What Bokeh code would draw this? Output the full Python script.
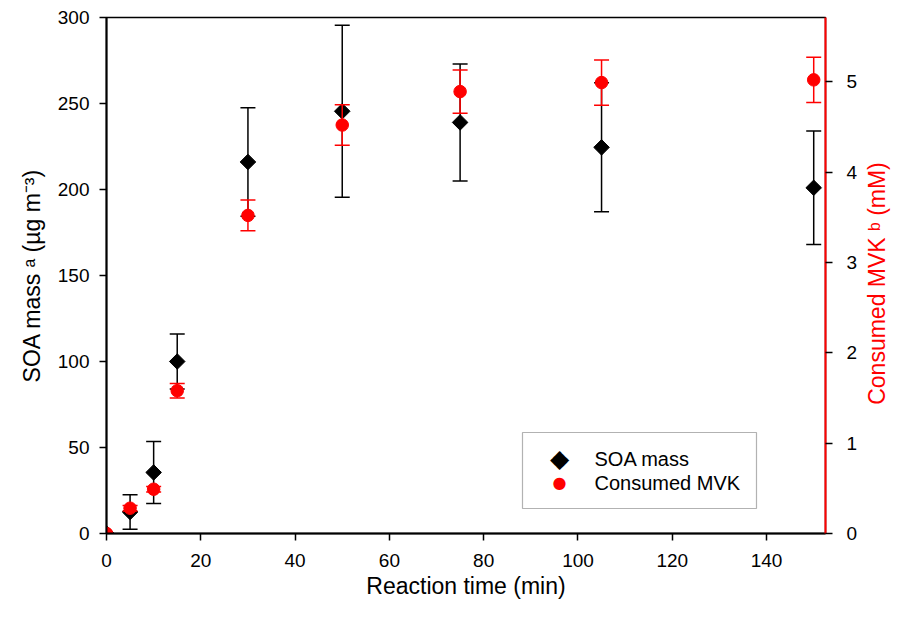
import math
from bokeh.plotting import figure
from bokeh.models import Range1d, LinearAxis, FixedTicker, BoxAnnotation, Label
from bokeh.embed import file_html
from bokeh.resources import INLINE

# ---- data ----
time_min = [0, 5, 10, 15, 30, 50, 75, 105, 150]
soa_mass = [0, 12.5, 35.5, 100, 216, 245.5, 239, 224.5, 201]
soa_err = [0, 10, 18, 16, 31.5, 50, 34, 37.5, 33]
mvk_consumed = [0, 0.28, 0.49, 1.58, 3.52, 4.52, 4.89, 4.99, 5.02]
mvk_err = [0, 0.03, 0.03, 0.08, 0.17, 0.225, 0.24, 0.25, 0.25]
x_ticks = [0, 20, 40, 60, 80, 100, 120, 140]
left_ticks = [0, 50, 100, 150, 200, 250, 300]
right_ticks = [0, 1, 2, 3, 4, 5]
legend_labels = ["SOA mass", "Consumed MVK"]

FONT = "Liberation Sans"
RED = "#ff0000"
FRAME_W, FRAME_H = 719, 516

p = figure(width=894, height=601, output_backend="svg", toolbar_location=None,
           x_range=Range1d(0, 152.5), y_range=Range1d(0, 300),
           min_border_left=106, min_border_right=69, min_border_top=17, min_border_bottom=68)
p.extra_y_ranges = {"mvk": Range1d(0, 5.71)}
p.grid.visible = False
p.outline_line_color = "black"
p.outline_line_width = 1.5
p.background_fill_color = "white"
p.border_fill_color = "white"

def style_axis(ax):
    ax.axis_line_width = 2
    ax.major_tick_line_width = 1.5
    ax.major_tick_in = 0
    ax.major_tick_out = 7
    ax.minor_tick_line_color = None
    ax.major_label_text_font = FONT
    ax.major_label_text_font_size = "19px"
    ax.major_label_text_color = "black"
    ax.axis_label_text_font = FONT
    ax.axis_label_text_font_size = "23px"
    ax.axis_label_text_font_style = "normal"
    ax.axis_label_text_color = "black"

xa = p.xaxis[0]
style_axis(xa)
xa.ticker = FixedTicker(ticks=x_ticks)
xa.axis_label = "Reaction time (min)"
xa.major_label_standoff = 13
xa.axis_label_standoff = 3

ya = p.yaxis[0]
style_axis(ya)
ya.ticker = FixedTicker(ticks=left_ticks)
ya.axis_label = "SOA mass \u1d43 (\u00b5g m\u207b\u00b3)"
ya.major_label_standoff = 10
ya.axis_label_standoff = 10

ra = LinearAxis(y_range_name="mvk")
style_axis(ra)
ra.ticker = FixedTicker(ticks=right_ticks)
ra.axis_line_color = RED
ra.major_tick_line_color = "black"
ra.major_label_standoff = 14
p.add_layout(ra, "right")

# right axis title, reading bottom to top like the left one (in its own side panel)
p.add_layout(Label(x=16, y=FRAME_H / 2 - 8, x_units="screen", y_units="screen",
                   text="Consumed MVK \u1d47 (mM)", angle=math.pi / 2,
                   text_font=FONT, text_font_size="23px", text_color=RED,
                   text_align="center", text_baseline="middle"), "right")

# SOA error bars
sx = [t for t, e in zip(time_min, soa_err) if e > 0]
s_lo = [v - e for v, e in zip(soa_mass, soa_err) if e > 0]
s_hi = [v + e for v, e in zip(soa_mass, soa_err) if e > 0]
p.segment(sx, s_lo, sx, s_hi, line_color="black", line_width=1.5)
p.scatter(sx, s_lo, marker="dash", size=15, line_color="black", line_width=1.5)
p.scatter(sx, s_hi, marker="dash", size=15, line_color="black", line_width=1.5)
p.scatter(time_min, soa_mass, marker="square", angle=math.pi / 4, size=11,
          fill_color="black", line_color="black")

# MVK error bars
mx = [t for t, e in zip(time_min, mvk_err) if e > 0]
m_lo = [v - e for v, e in zip(mvk_consumed, mvk_err) if e > 0]
m_hi = [v + e for v, e in zip(mvk_consumed, mvk_err) if e > 0]
p.segment(mx, m_lo, mx, m_hi, line_color=RED, line_width=1.5, y_range_name="mvk")
p.scatter(mx, m_lo, marker="dash", size=15, line_color=RED, line_width=1.5, y_range_name="mvk")
p.scatter(mx, m_hi, marker="dash", size=15, line_color=RED, line_width=1.5, y_range_name="mvk")
p.scatter(time_min, mvk_consumed, marker="circle", size=12.5,
          fill_color=RED, line_color=RED, y_range_name="mvk")

# legend (drawn manually so the diamond keeps its shape)
box = BoxAnnotation(left=416, right=650, bottom=25, top=101,
                    left_units="screen", right_units="screen",
                    bottom_units="screen", top_units="screen",
                    fill_color="white", fill_alpha=1.0,
                    line_color="black", line_width=1.2)
p.add_layout(box)
p.add_layout(Label(x=453, y=75, x_units="screen", y_units="screen", text="\u25c6",
                   text_font="DejaVu Sans", text_font_size="25px", text_color="black",
                   text_align="center", text_baseline="middle"))
p.add_layout(Label(x=453, y=51, x_units="screen", y_units="screen", text="\u25cf",
                   text_font="DejaVu Sans", text_font_size="16px", text_color=RED,
                   text_align="center", text_baseline="middle"))
for lbl, yy in zip(legend_labels, [75, 51]):
    p.add_layout(Label(x=488, y=yy, x_units="screen", y_units="screen", text=lbl,
                       text_font=FONT, text_font_size="20px", text_color="black",
                       text_align="left", text_baseline="middle"))

open("out.html", "w").write(file_html(p, INLINE))
